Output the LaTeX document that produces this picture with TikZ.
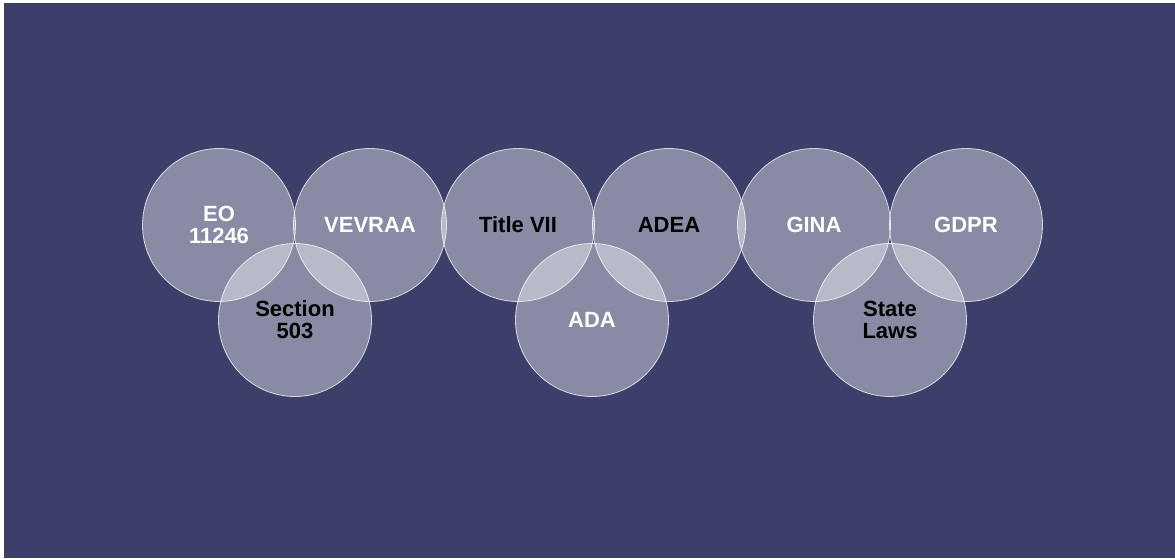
\documentclass[tikz,border=0pt]{standalone}
\usepackage{fontspec}
\setmainfont{Liberation Sans}
\definecolor{navy}{HTML}{3B3F6A}
\begin{document}
\begin{tikzpicture}[x=1pt,y=-1pt,
  law/.style={circle, minimum size=153pt, inner sep=0pt, fill=white, fill opacity=0.4,
    draw=white, draw opacity=0.75, line width=0.8pt, text opacity=1,
    align=center, font=\fontsize{22}{22}\selectfont\bfseries},
  wt/.style={text=white},
  bk/.style={text=black}]
\useasboundingbox (0,0) rectangle (1175,558);
\fill[white] (0,0) rectangle (1175,558);
\fill[navy] (4,3) rectangle (1175,558);
\node[law,wt] (eo) at (219,225) {EO\\11246};
\node[law,wt] (vevraa) at (370,225) {VEVRAA};
\node[law,bk] (title) at (518,225) {Title VII};
\node[law,bk] (adea) at (669,225) {ADEA};
\node[law,wt] (gina) at (814,225) {GINA};
\node[law,wt] (gdpr) at (966,225) {GDPR};
\node[law,bk] (sec) at (295,320) {Section\\503};
\node[law,wt] (ada) at (592,320) {ADA};
\node[law,bk] (state) at (890,320) {State\\Laws};
\end{tikzpicture}
\end{document}
